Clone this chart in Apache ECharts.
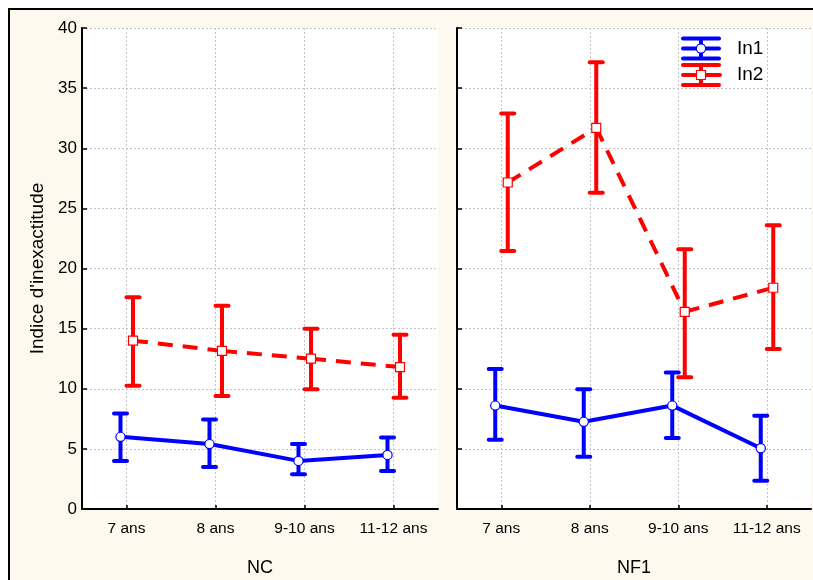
<!DOCTYPE html>
<html><head><meta charset="utf-8">
<script src="https://cdn.jsdelivr.net/npm/echarts@6/dist/echarts.min.js"></script>
<style>html,body{margin:0;padding:0;background:#fff}#c{width:813px;height:580px}</style>
</head><body><div id="c"></div>
<script>
var categories = ['7 ans', '8 ans', '9-10 ans', '11-12 ans'];
var yTicks = [0, 5, 10, 15, 20, 25, 30, 35, 40];
var panels = ['NC', 'NF1'];
var seriesNames = ['In1', 'In2'];

var NC_In1_mean = [6.0, 5.4, 4.0, 4.5];
var NC_In1_low = [4.0, 3.5, 2.9, 3.15];
var NC_In1_high = [7.95, 7.45, 5.4, 5.95];
var NC_In2_mean = [14.0, 13.15, 12.5, 11.8];
var NC_In2_low = [10.25, 9.4, 9.95, 9.25];
var NC_In2_high = [17.6, 16.9, 15.0, 14.5];

var NF1_In1_mean = [8.6, 7.25, 8.6, 5.05];
var NF1_In1_low = [5.75, 4.35, 5.9, 2.35];
var NF1_In1_high = [11.65, 9.95, 11.35, 7.75];
var NF1_In2_mean = [27.15, 31.7, 16.4, 18.4];
var NF1_In2_low = [21.45, 26.3, 10.95, 13.3];
var NF1_In2_high = [32.9, 37.15, 21.6, 23.6];

var BLUE = '#0000ff', RED = '#ff0000';
var FONT = 'Liberation Sans, Arial, sans-serif';

function rows(mean, low, high) {
  return mean.map(function (m, i) { return [i, m, low[i], high[i]]; });
}

function makeRender(mean, dx, color, dashed, square) {
  return function (params, api) {
    var i = params.dataIndex;
    var p = api.coord([i, api.value(1)]);
    var lo = api.coord([i, api.value(2)]);
    var hi = api.coord([i, api.value(3)]);
    var x = p[0] + dx;
    var children = [];
    if (i < mean.length - 1) {
      var q = api.coord([i + 1, mean[i + 1]]);
      children.push({
        type: 'line', z2: 1,
        shape: { x1: x, y1: p[1], x2: q[0] + dx, y2: q[1] },
        style: { stroke: color, lineWidth: 4, lineDash: dashed ? [15, 10] : null, lineCap: 'butt' }
      });
    }
    children.push({ type: 'line', z2: 2, shape: { x1: x, y1: lo[1], x2: x, y2: hi[1] }, style: { stroke: color, lineWidth: 4 } });
    children.push({ type: 'line', z2: 2, shape: { x1: x - 6.5, y1: lo[1], x2: x + 6.5, y2: lo[1] }, style: { stroke: color, lineWidth: 4, lineCap: 'round' } });
    children.push({ type: 'line', z2: 2, shape: { x1: x - 6.5, y1: hi[1], x2: x + 6.5, y2: hi[1] }, style: { stroke: color, lineWidth: 4, lineCap: 'round' } });
    if (square) {
      children.push({ type: 'rect', z2: 3, shape: { x: x - 4.5, y: p[1] - 4.5, width: 9, height: 9 }, style: { fill: '#fff', stroke: color, lineWidth: 1.2 } });
    } else {
      children.push({ type: 'circle', z2: 3, shape: { cx: x, cy: p[1], r: 4.6 }, style: { fill: '#fff', stroke: color, lineWidth: 1.2 } });
    }
    return { type: 'group', children: children };
  };
}

function legendIcon(cx, cy, color, square) {
  var st = function (dash) { return { stroke: color, lineWidth: 4, lineCap: dash ? 'butt' : 'round' }; };
  var ch = [
    { type: 'line', shape: { x1: cx - 18, y1: cy - 10, x2: cx + 18, y2: cy - 10 }, style: st() },
    { type: 'line', shape: { x1: cx - 18, y1: cy + 10, x2: cx + 18, y2: cy + 10 }, style: st() },
    { type: 'line', shape: { x1: cx, y1: cy - 10, x2: cx, y2: cy + 10 }, style: st(true) }
  ];
  if (square) {
    ch.push({ type: 'line', shape: { x1: cx - 18, y1: cy, x2: cx - 6, y2: cy }, style: st() });
    ch.push({ type: 'line', shape: { x1: cx + 5, y1: cy, x2: cx + 19, y2: cy }, style: st() });
    ch.push({ type: 'rect', z2: 3, shape: { x: cx - 4.5, y: cy - 4.5, width: 9, height: 9 }, style: { fill: '#fff', stroke: color, lineWidth: 1.2 } });
  } else {
    ch.push({ type: 'line', shape: { x1: cx - 18, y1: cy, x2: cx + 18, y2: cy }, style: st() });
    ch.push({ type: 'circle', z2: 3, shape: { cx: cx, cy: cy, r: 4.6 }, style: { fill: '#fff', stroke: color, lineWidth: 1.2 } });
  }
  return { type: 'group', z: 20, silent: true, children: ch };
}

function xAxis(gi, name) {
  return {
    type: 'category', gridIndex: gi, data: categories, boundaryGap: true,
    name: name, nameLocation: 'middle', nameGap: 50,
    nameTextStyle: { fontSize: 18, color: '#000', fontFamily: FONT },
    axisLine: { show: true, lineStyle: { color: '#000', width: 2 } },
    axisTick: { show: true, alignWithLabel: true, inside: true, length: 4, lineStyle: { color: '#000', width: 1.5 } },
    axisLabel: { interval: 0, hideOverlap: false, fontSize: 15.5, color: '#000', fontFamily: FONT, margin: 12 },
    splitLine: { show: true, alignWithLabel: true, interval: 0, lineStyle: { color: '#c4c4c4', type: [2, 2], width: 1 } }
  };
}
function yAxis(gi, showLabels) {
  return {
    type: 'value', gridIndex: gi, min: yTicks[0], max: yTicks[yTicks.length - 1], interval: 5,
    name: showLabels ? "Indice d'inexactitude" : '', nameLocation: 'middle', nameGap: 35,
    nameTextStyle: { fontSize: 19, color: '#000', fontFamily: FONT },
    axisLine: { show: true, lineStyle: { color: '#000', width: 2 } },
    axisTick: { show: true, inside: true, length: 5, lineStyle: { color: '#000', width: 1.5 } },
    axisLabel: { show: showLabels, fontSize: 17, color: '#000', fontFamily: FONT, margin: 5 },
    splitLine: { show: true, lineStyle: { color: '#c4c4c4', type: [2, 2], width: 1 } }
  };
}

var data = {
  NC: { In1: [NC_In1_mean, NC_In1_low, NC_In1_high], In2: [NC_In2_mean, NC_In2_low, NC_In2_high] },
  NF1: { In1: [NF1_In1_mean, NF1_In1_low, NF1_In1_high], In2: [NF1_In2_mean, NF1_In2_low, NF1_In2_high] }
};

var series = [];
panels.forEach(function (p, gi) {
  seriesNames.forEach(function (s) {
    var d = data[p][s];
    var isRed = s === 'In2';
    series.push({
      type: 'custom', name: s, xAxisIndex: gi, yAxisIndex: gi,
      itemStyle: { color: isRed ? RED : BLUE },
      renderItem: makeRender(d[0], isRed ? 6.5 : -6, isRed ? RED : BLUE, isRed, isRed),
      data: rows(d[0], d[1], d[2]),
      encode: { x: 0, y: [1, 2, 3] },
      clip: false
    });
  });
});

var chart = echarts.init(document.getElementById('c'), null, { renderer: 'canvas' });
chart.setOption({
  backgroundColor: '#ffffff',
  animation: false,
  graphic: [{
    type: 'rect', silent: true, z: -10,
    shape: { x: 9, y: 9, width: 900, height: 700 },
    style: { fill: '#fdf9ef', stroke: '#000', lineWidth: 2 }
  },
  legendIcon(701, 48.5, BLUE, false),
  legendIcon(701, 75, RED, true)
  ],
  grid: [
    { left: 82, right: 375, top: 28, bottom: 71, show: true, backgroundColor: '#ffffff', borderWidth: 0, containLabel: false, outerBoundsMode: 'none' },
    { left: 457, right: 2, top: 28, bottom: 71, show: true, backgroundColor: '#ffffff', borderWidth: 0, containLabel: false, outerBoundsMode: 'none' }
  ],
  xAxis: [xAxis(0, panels[0]), xAxis(1, panels[1])],
  yAxis: [yAxis(0, true), yAxis(1, false)],
  legend: {
    data: ['In1', 'In2'],
    icon: 'rect',
    orient: 'vertical', left: 682, top: 37, padding: 0, itemGap: 3.5,
    itemWidth: 40, itemHeight: 23,
    itemStyle: { color: 'rgba(0,0,0,0)', borderWidth: 0 },
    textStyle: { fontSize: 19, color: '#000', fontFamily: FONT, padding: [0, 0, 0, 10] }
  },
  series: series
});
</script>
</body></html>
